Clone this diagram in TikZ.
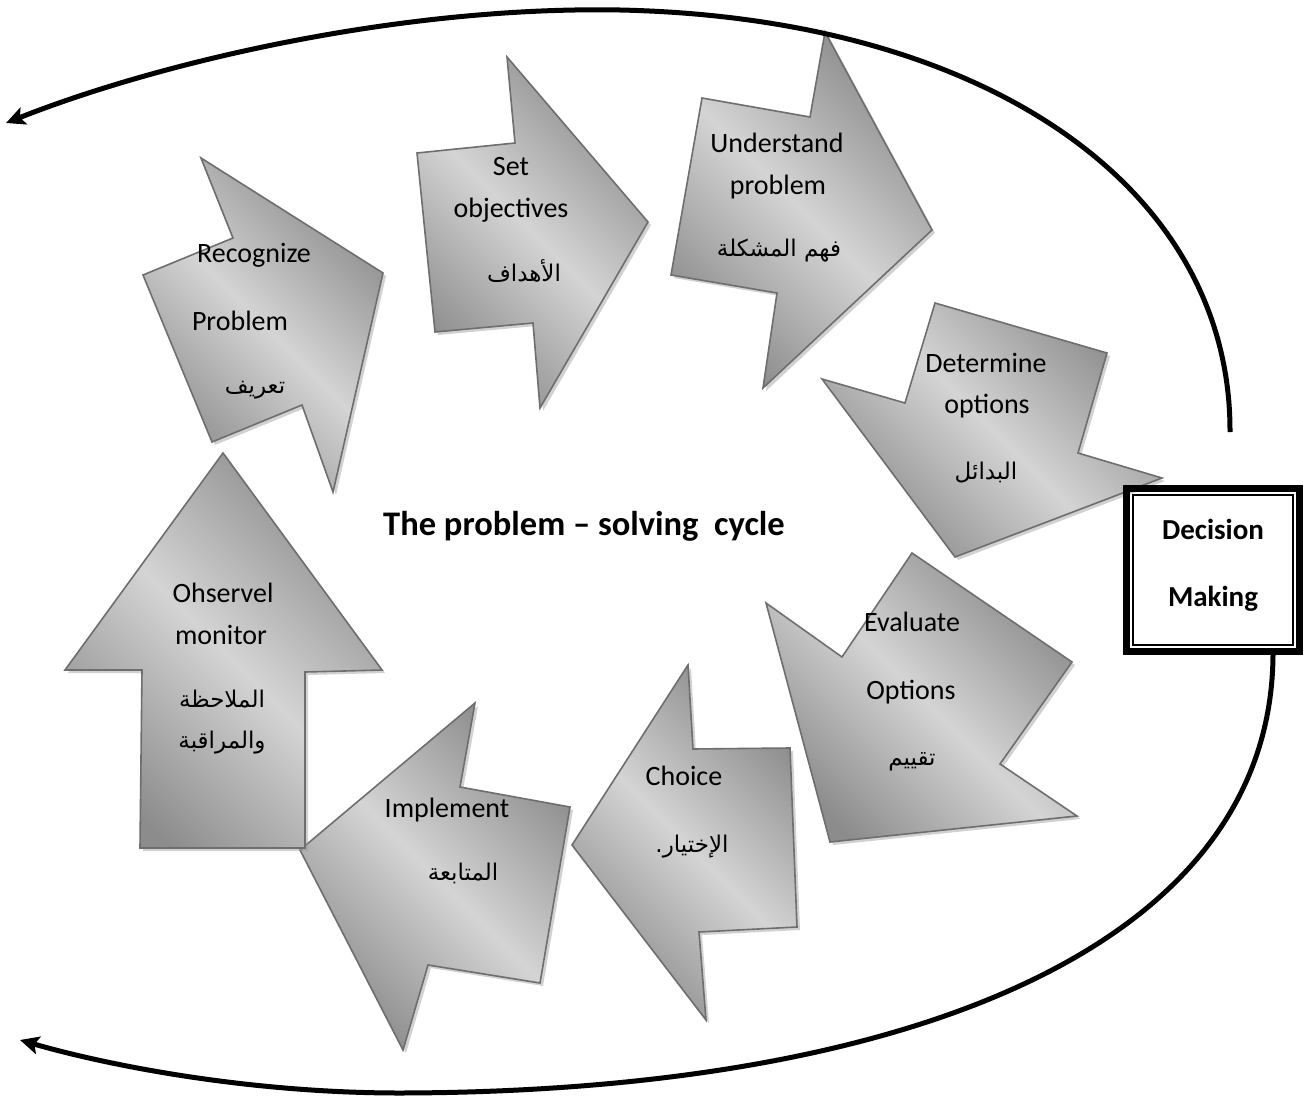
\documentclass[tikz,border=0pt]{standalone}
\usepackage{fontspec}
\setmainfont{Carlito}
\newfontfamily\arabicfont[Script=Arabic]{DejaVu Sans}
\TeXXeTstate=1
\usetikzlibrary{shadows,arrows.meta}
\definecolor{edgegray}{RGB}{110,110,110}
\definecolor{darkfill}{RGB}{140,140,140}
\definecolor{lightfill}{RGB}{212,212,212}
\begin{document}
\begin{tikzpicture}[x=1pt,y=-1pt,
  cyc/.style={draw=edgegray, line width=1.6pt, line join=miter,
    top color=darkfill, bottom color=darkfill, middle color=lightfill, shading angle=-45,
    drop shadow={shadow xshift=3pt,shadow yshift=-3pt,fill=black!40,opacity=0.45}},
  lab/.style={font=\fontsize{28}{32}\selectfont, inner sep=0pt, text height=0.64em, text depth=0pt, yshift=-5pt},
  arlab/.style={font=\arabicfont\fontsize{23}{26}\selectfont, inner sep=0pt, text height=0.55em, text depth=0pt, yshift=-5pt},
  ttl/.style={font=\fontsize{34.5}{38}\selectfont\bfseries, inner sep=0pt, text height=0.64em, text depth=0pt, yshift=-6pt},
  dmlab/.style={font=\fontsize{29}{32}\selectfont\bfseries, inner sep=0pt, text height=0.64em, text depth=0pt, yshift=-5pt},
  loopline/.style={line width=5pt, -{Stealth[length=19pt,width=18pt,inset=4pt]}}
]
\useasboundingbox (0,0) rectangle (1304,1111);
\fill[white] (0,0) rectangle (1304,1111);

% cycle arrows
\path[cyc] (201,158) -- (383,273) -- (333,492) -- (302,405) -- (212,442) -- (143,275) -- (233,238) -- cycle;
\path[cyc] (507,57) -- (648,222) -- (540,408) -- (533,323) -- (435,332) -- (417,153) -- (515,143) -- cycle;
\path[cyc] (825,32) -- (932,230) -- (763,388) -- (777,293) -- (671,275) -- (702,98) -- (810,117) -- cycle;
\path[cyc] (935,303) -- (1107,353) -- (1078,453) -- (1162,478) -- (955,557) -- (822,379) -- (905,403) -- cycle;
\path[cyc] (912,553) -- (1072,662) -- (1000,764) -- (1077,816) -- (830,842) -- (766,603) -- (842,657) -- cycle;
\path[cyc] (688,665) -- (693,749) -- (790,748) -- (797,927) -- (699,932) -- (706,1020) -- (572,845) -- cycle;
\path[cyc] (475,703) -- (460,787) -- (570,807) -- (540,983) -- (428,965) -- (403,1050) -- (300,850) -- cycle;
\path[cyc] (223,453) -- (382,670) -- (305,672) -- (305,848) -- (140,848) -- (142,670) -- (65,670) -- cycle;

% labels
\node[lab] (r1) at (254,254) {Recognize};
\node[lab] (r2) at (240,322) {Problem};
\node[arlab] (r3) at (255,386) {\beginR تعريف\endR};

\node[lab] (s1) at (511,167) {Set};
\node[lab] (s2) at (511,209) {objectives};
\node[arlab] (s3) at (524,274) {\beginR الأهداف\endR};

\node[lab] (u1) at (777,144) {Understand};
\node[lab] (u2) at (778,186) {problem};
\node[arlab] (u3) at (779,249) {\beginR فهم المشكلة\endR};

\node[lab] (d1) at (986,364) {Determine};
\node[lab] (d2) at (987,405) {options};
\node[arlab] (d3) at (986,472) {\beginR البدائل\endR};

\node[lab] (e1) at (912,623) {Evaluate};
\node[lab] (e2) at (911,691) {Options};
\node[arlab] (e3) at (912,758) {\beginR تقييم\endR};

\node[lab] (c1) at (684,777) {Choice};
\node[arlab] (c2) at (692,845) {\beginR الإختيار.\endR};

\node[lab] (i1) at (447,809) {Implement};
\node[arlab] (i2) at (463,873) {\beginR المتابعة\endR};

\node[lab] (o1) at (223,594) {Ohservel};
\node[lab] (o2) at (221,636) {monitor};
\node[arlab] (o3) at (222,700) {\beginR الملاحظة\endR};
\node[arlab] (o4) at (222,741) {\beginR والمراقبة\endR};

\node[ttl] (title) at (584,526) {The problem -- solving\ \ cycle};

% decision box
\node[draw=black, line width=7pt, minimum width=173pt, minimum height=163pt, inner sep=0pt] (dm) at (1213,570) {};
\draw[line width=1.8pt] ([shift={(10,10)}]dm.north west) rectangle ([shift={(-10,-10)}]dm.south east);
\node[dmlab] (dm1) at (1213,531) {Decision};
\node[dmlab] (dm2) at (1213,598) {Making};

% loop connectors
\coordinate (topstart) at (1230,432);
\coordinate (topend) at (6,123);
\coordinate (botstart) at (1273,655);
\coordinate (botend) at (20,1040);
\draw[loopline] (topstart) .. controls (1231,190) and (990,18) .. (620,10)
  .. controls (400,6) and (160,62) .. (topend);
\draw[loopline] (botstart) .. controls (1271,950) and (900,1092) .. (400,1093)
  .. controls (250,1093) and (110,1066) .. (botend);
\end{tikzpicture}
\end{document}
